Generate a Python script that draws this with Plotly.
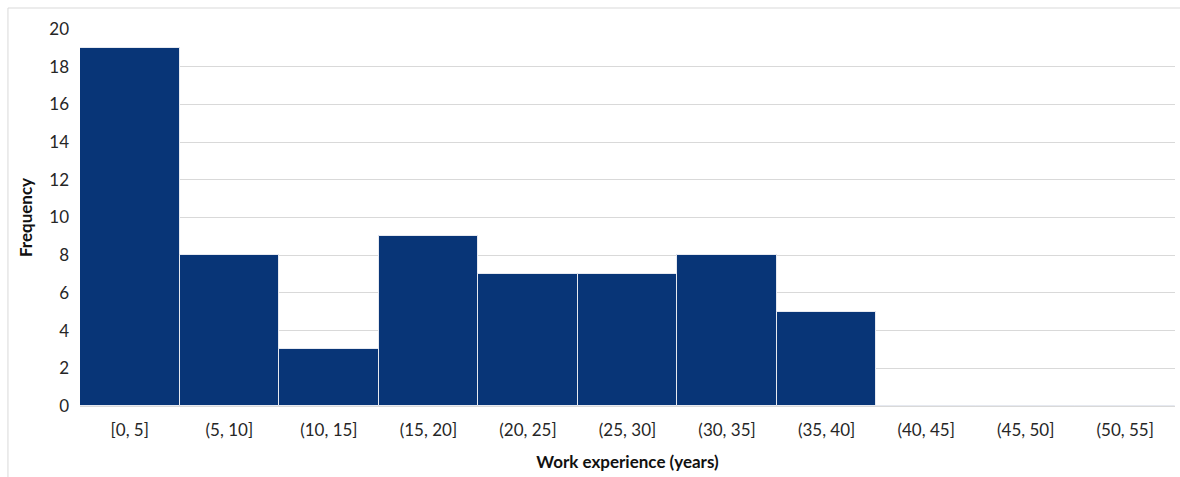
import plotly.graph_objects as go

# Histogram bins of work experience and their counts
bins = ["[0, 5]", "(5, 10]", "(10, 15]", "(15, 20]", "(20, 25]", "(25, 30]",
        "(30, 35]", "(35, 40]", "(40, 45]", "(45, 50]", "(50, 55]"]
counts = [19, 8, 3, 9, 7, 7, 8, 5, 0, 0, 0]
y_ticks = list(range(0, 21, 2))

FONT = "Lato, 'Open Sans', sans-serif"
BAR_COLOR = "#083577"

fig = go.Figure(
    go.Bar(
        x=bins,
        y=counts,
        marker=dict(color=BAR_COLOR, line=dict(color="#e6e9f0", width=1)),
        width=1.0,
    )
)

fig.update_layout(
    width=1180,
    height=477,
    margin=dict(l=80, r=5, t=29, b=71),
    paper_bgcolor="white",
    plot_bgcolor="white",
    bargap=0,
    showlegend=False,
    font=dict(family=FONT, size=17, color="#262626"),
    xaxis=dict(
        title=dict(text="<b>Work experience (years)</b>", font=dict(size=17, color="#111"), standoff=16),
        tickfont=dict(size=17, color="#262626"),
        showgrid=False,
        showline=True,
        linecolor="#d9d9d9",
        linewidth=1,
        ticks="",
        ticklabelstandoff=9,
    ),
    yaxis=dict(
        title=dict(text="<b>Frequency</b>", font=dict(size=17, color="#111"), standoff=12),
        tickvals=y_ticks,
        range=[0, 20],
        tickfont=dict(size=17, color="#262626"),
        showgrid=True,
        gridcolor="#d9d9d9",
        gridwidth=1,
        zeroline=False,
        ticks="",
        ticklabelstandoff=10,
    ),
    shapes=[
        dict(
            type="rect", xref="paper", yref="paper",
            x0=-0.0658, x1=1.02, y0=-0.25, y1=1.0557,
            line=dict(color="#d9d9d9", width=1),
            fillcolor="rgba(0,0,0,0)", layer="below",
        )
    ],
)

fig.write_html("out.html")
